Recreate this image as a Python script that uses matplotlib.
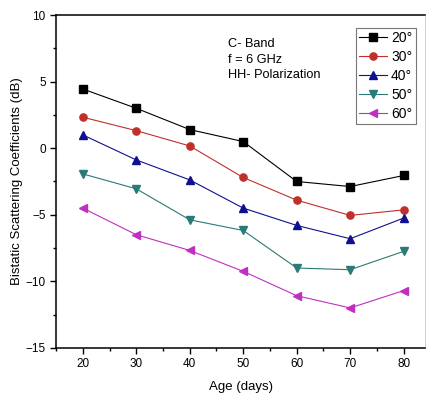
import matplotlib.pyplot as plt
from matplotlib.ticker import MultipleLocator

plt.rcParams['font.family'] = ['Liberation Sans', 'DejaVu Sans']

age = [20, 30, 40, 50, 60, 70, 80]
angles = ['20°', '30°', '40°', '50°', '60°']
s20 = [4.45, 3.0, 1.4, 0.5, -2.5, -2.88, -2.05]
s30 = [2.33, 1.32, 0.17, -2.2, -3.9, -5.05, -4.63]
s40 = [1.0, -0.88, -2.38, -4.5, -5.8, -6.8, -5.25]
s50 = [-1.93, -3.05, -5.38, -6.18, -9.0, -9.13, -7.75]
s60 = [-4.5, -6.5, -7.68, -9.25, -11.08, -12.0, -10.7]

series = [s20, s30, s40, s50, s60]
markers = ['s', 'o', '^', 'v', '<']
colors = ['#000000', '#c0302a', '#101090', '#2a7a78', '#c030c0']

fig = plt.figure(figsize=(4.28, 3.98), dpi=100)
ax = fig.add_axes([0.131, 0.126, 0.862, 0.836])

for vals, m, c, lab in zip(series, markers, colors, angles):
    ax.plot(age, vals, color=c, marker=m, markersize=5.2, linewidth=0.8, label=lab)

ax.set_xlim(15, 84)
ax.set_ylim(-15, 10)
ax.xaxis.set_major_locator(MultipleLocator(10))
ax.xaxis.set_minor_locator(MultipleLocator(5))
ax.yaxis.set_major_locator(MultipleLocator(5))
ax.yaxis.set_minor_locator(MultipleLocator(2.5))
ax.tick_params(which='both', direction='out', labelsize=8.5, top=False, right=False)
ax.tick_params(which='major', length=4, width=1)
ax.tick_params(which='minor', length=2.5, width=1)
for s in ['left', 'bottom', 'top']:
    ax.spines[s].set_linewidth(1.1)
ax.spines['right'].set_linewidth(0.5)
ax.spines['right'].set_color('#bbbbbb')

ax.set_xlabel('Age (days)', fontsize=9.5, labelpad=8)
ax.set_ylabel('Bistatic Scattering Coefficients (dB)', fontsize=9.5, labelpad=2)

ax.text(0.465, 0.93, 'C- Band\nf = 6 GHz\nHH- Polarization', transform=ax.transAxes,
        fontsize=9.2, va='top', ha='left', linespacing=1.35)

leg = ax.legend(loc='upper right', bbox_to_anchor=(0.975, 0.962), fontsize=10,
                frameon=True, fancybox=False, edgecolor='#555555', handlelength=2.0,
                handletextpad=0.3, borderpad=0.25, labelspacing=0.35, borderaxespad=0)
leg.get_frame().set_linewidth(0.8)

fig.savefig('out.png', dpi=100)
